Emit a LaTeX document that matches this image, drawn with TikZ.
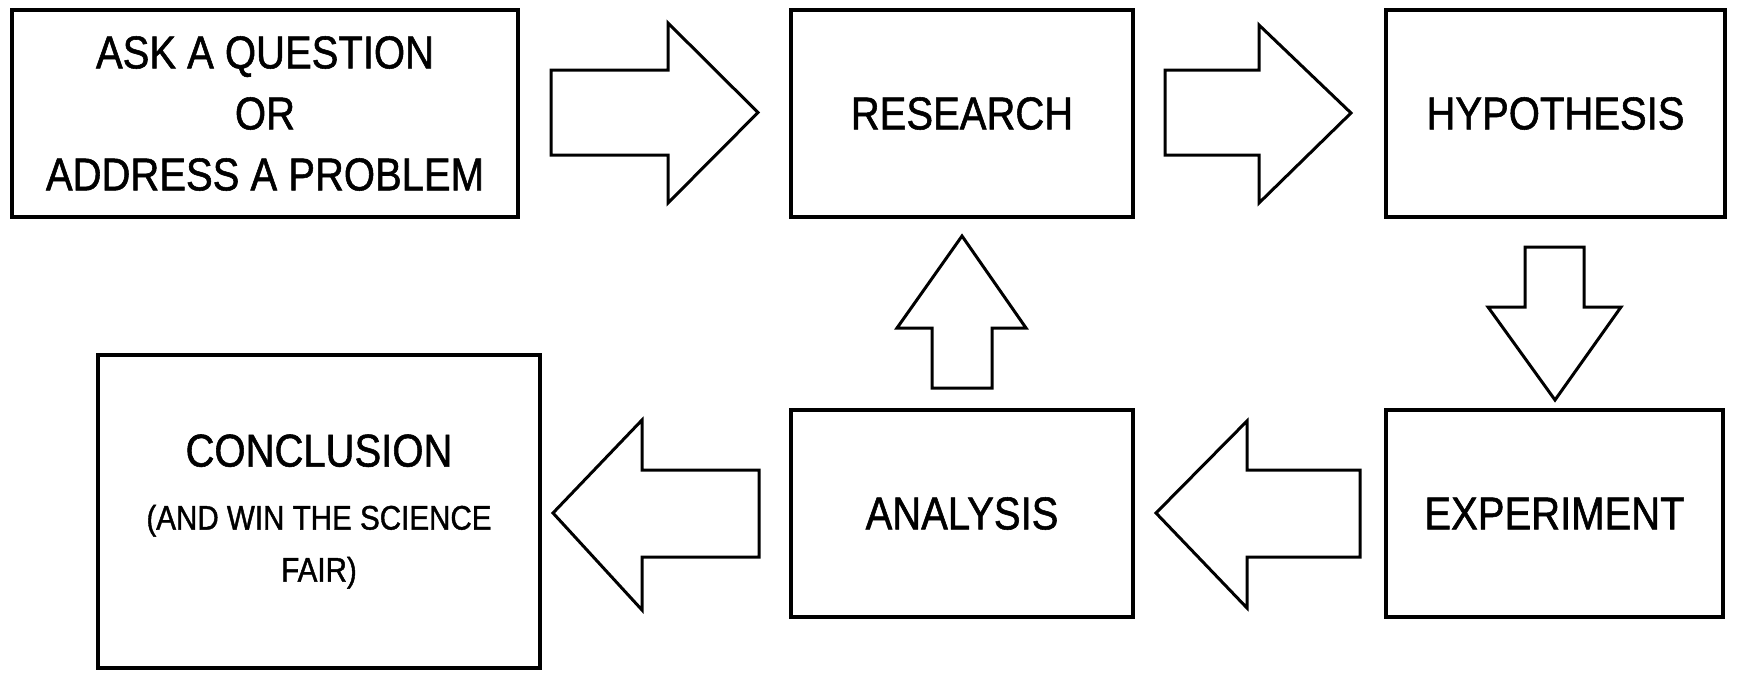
\documentclass[tikz,border=0pt]{standalone}
\usepackage{fontspec}
\setmainfont{Liberation Sans}[FakeStretch=0.87,FakeBold=1.2]
\begin{document}
\begin{tikzpicture}[x=1pt,y=-1pt,
  stepbox/.style={draw=black,line width=3.6pt,rectangle,inner sep=0pt,align=center,
    font=\fontsize{46}{61}\selectfont},
  blockarrow/.style={draw=black,line width=3pt,fill=white,line join=miter}]
\useasboundingbox[fill=white] (0,0) rectangle (1739,672);
% boxes
\node[stepbox,minimum width=506pt,minimum height=207pt] (ask) at (265,113.5)
  {ASK A QUESTION\\OR\\ADDRESS A PROBLEM};
\node[stepbox,minimum width=342pt,minimum height=207pt] (research) at (962,113.5) {RESEARCH};
\node[stepbox,minimum width=339pt,minimum height=207pt] (hyp) at (1555.5,113.5) {HYPOTHESIS};
\node[stepbox,minimum width=337pt,minimum height=207pt] (exp) at (1554.5,513.5) {EXPERIMENT};
\node[stepbox,minimum width=342pt,minimum height=207pt] (ana) at (962,513.5) {ANALYSIS};
\node[stepbox,minimum width=442pt,minimum height=313pt,font=\fontsize{34}{52}\selectfont] (concl) at (319,511.5)
  {{\fontsize{46}{52}\selectfont CONCLUSION}\\[11pt](AND WIN THE SCIENCE\\FAIR)};
% block arrows
\draw[blockarrow] (551,70) -- (668,70) -- (668,23) -- (758,112.5) -- (668,203) -- (668,155) -- (551,155) -- cycle;
\draw[blockarrow] (1165,70) -- (1259,70) -- (1259,25) -- (1351,113) -- (1259,203) -- (1259,155) -- (1165,155) -- cycle;
\draw[blockarrow] (1525,247) -- (1584,247) -- (1584,307) -- (1621,307) -- (1555,400) -- (1488,307) -- (1525,307) -- cycle;
\draw[blockarrow] (932,388) -- (992,388) -- (992,328) -- (1026,328) -- (962,236) -- (897,328) -- (932,328) -- cycle;
\draw[blockarrow] (1360,470) -- (1247,470) -- (1247,421) -- (1156,513) -- (1247,608) -- (1247,557) -- (1360,557) -- cycle;
\draw[blockarrow] (759,470) -- (642,470) -- (642,420) -- (553,513) -- (642,610) -- (642,557) -- (759,557) -- cycle;
\end{tikzpicture}
\end{document}
